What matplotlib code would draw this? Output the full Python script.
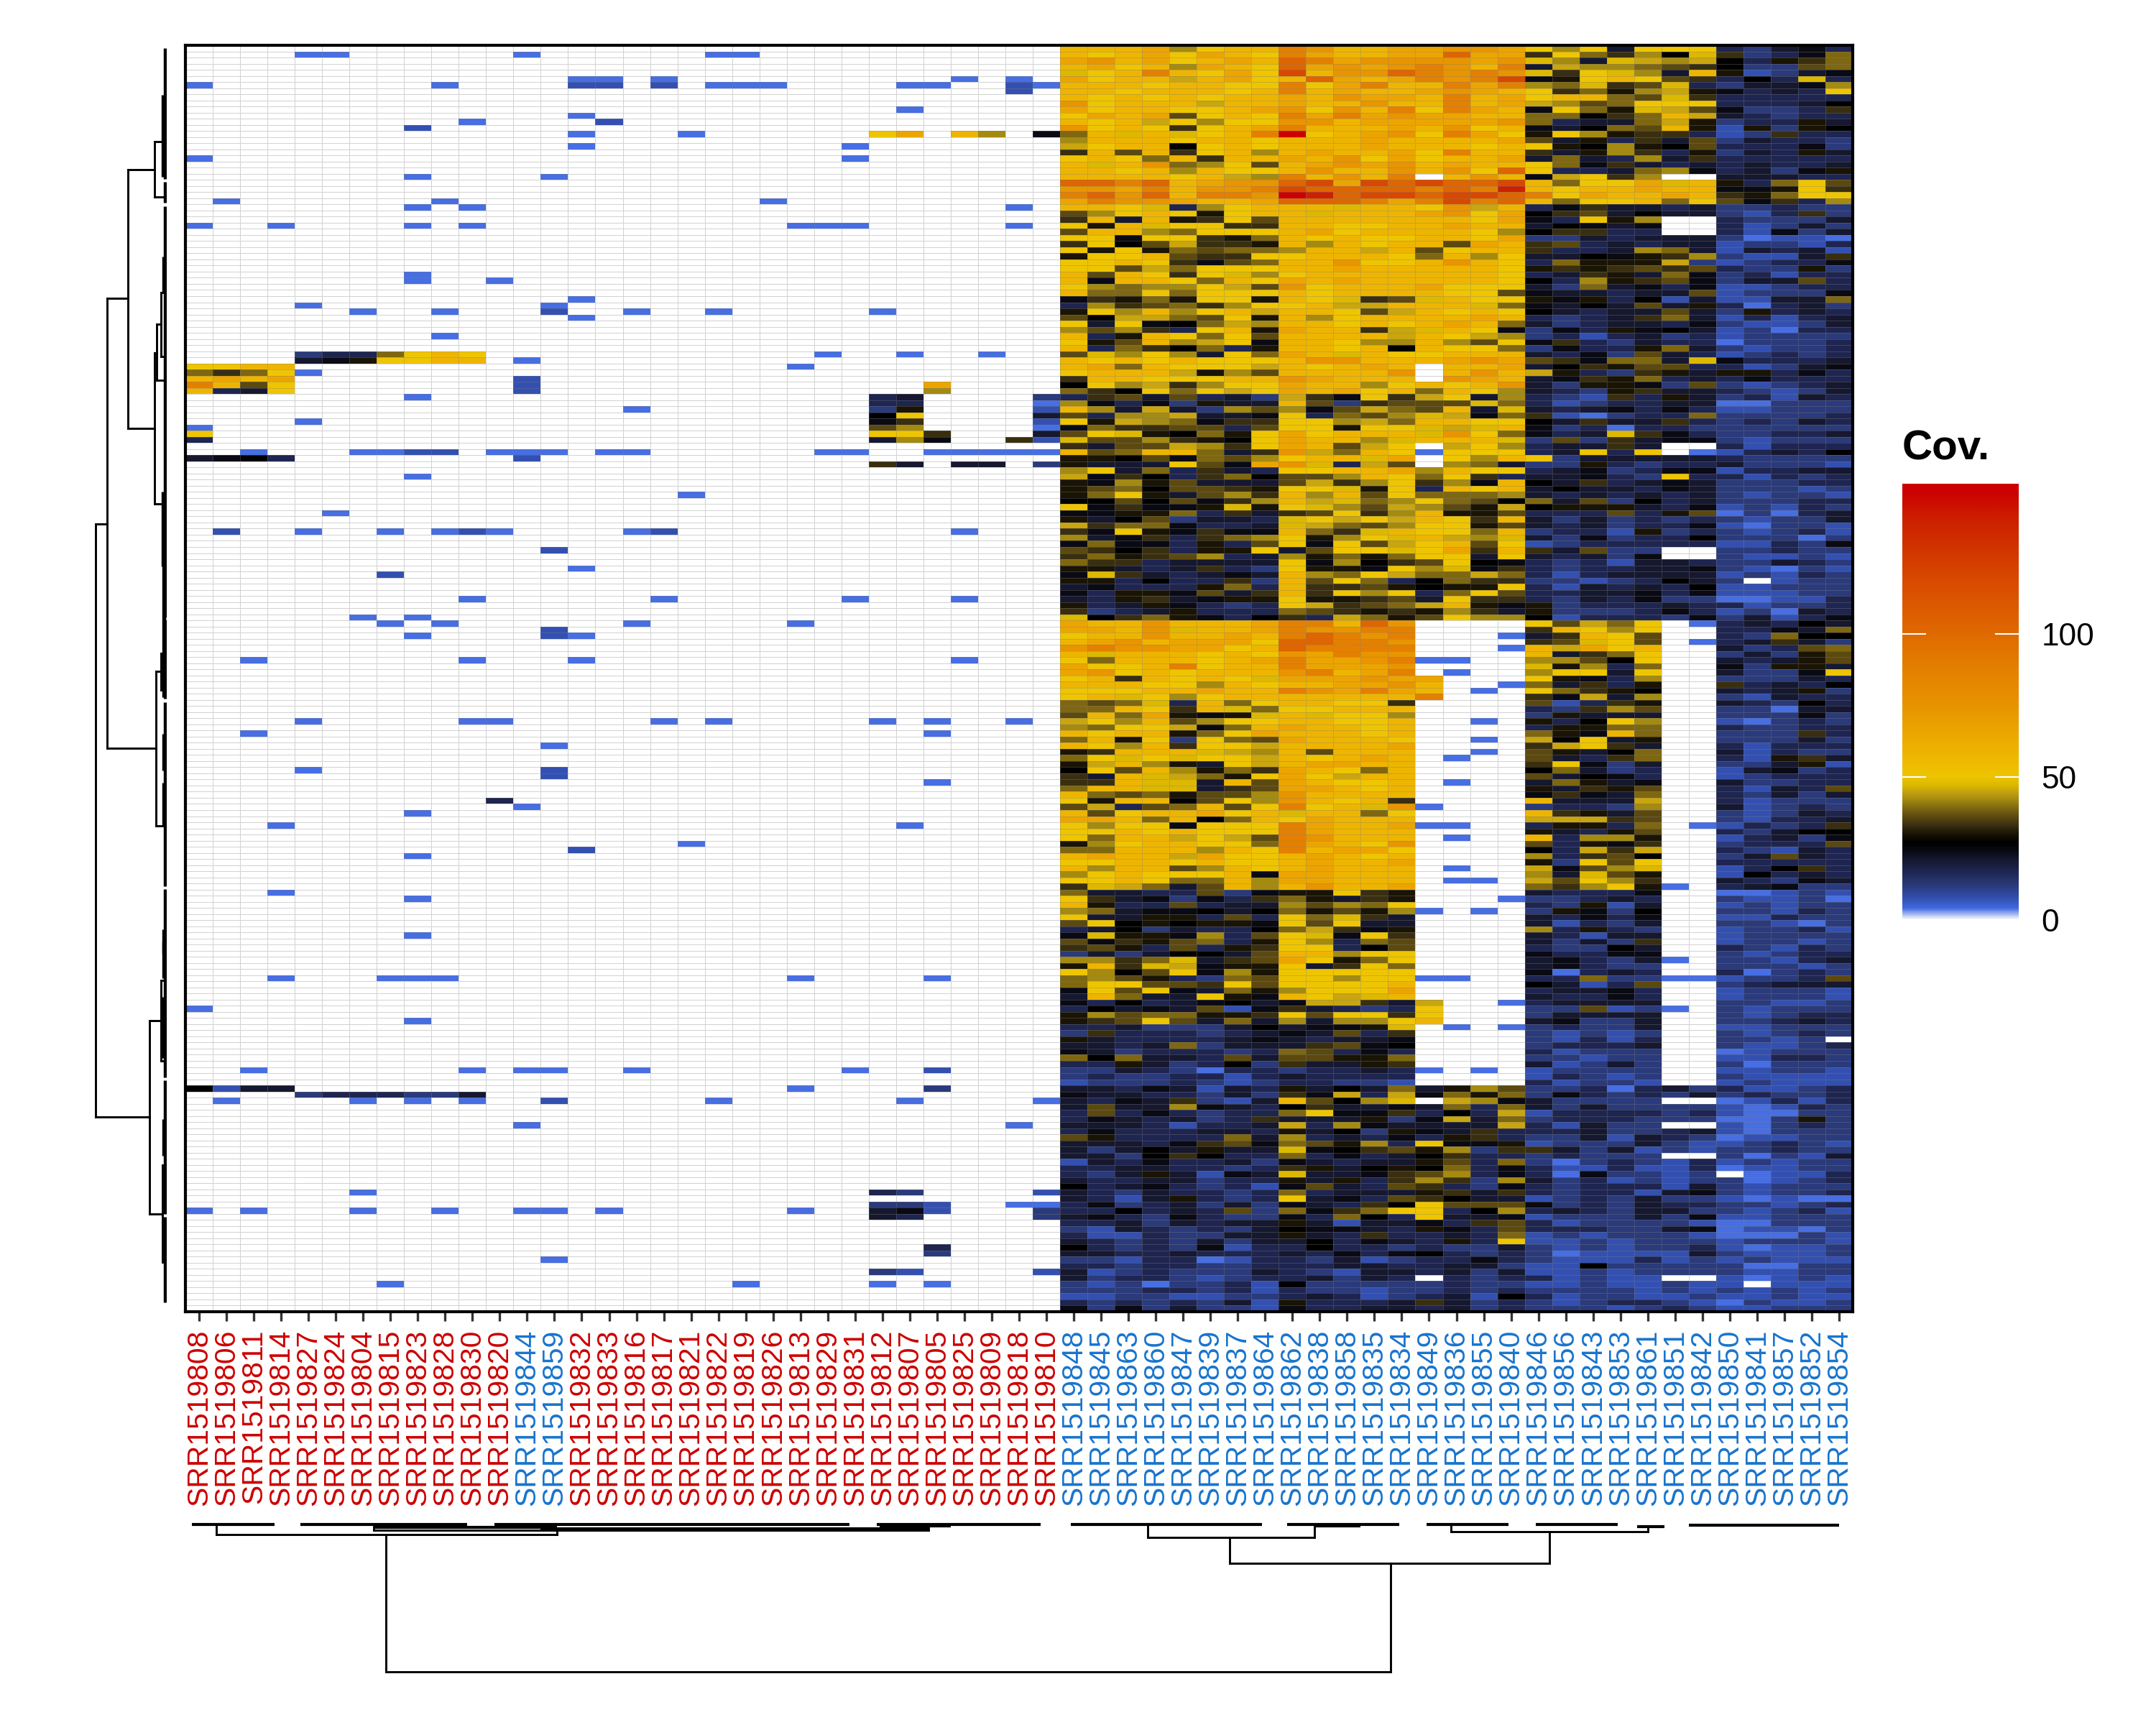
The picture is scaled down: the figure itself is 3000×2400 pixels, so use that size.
#!/usr/bin/env python3
"""Coverage heatmap with row and column dendrograms."""

import numpy as np
import matplotlib

matplotlib.use("Agg")
import matplotlib.pyplot as plt
from matplotlib.collections import LineCollection
from matplotlib.colors import LinearSegmentedColormap

plt.rcParams["font.family"] = ["Liberation Sans", "DejaVu Sans"]

W, H = 3000, 2400

SAMPLES = """808 806 811 814 827 824 804 815 823 828 830 820 844 859 832 833 816 817 821 822 819 826
813 829 831 812 807 805 825 809 818 810 848 845 863 860 847 839 837 864 862 838 858 835 834 849 836
855 840 846 856 843 853 861 851 842 850 841 857 852 854""".split()
BLUE_SAMPLES = {"844", "859"}
N_RED_BLOCK = 32

# one letter per colour level of the scale, '.' means no coverage
LEVEL_CODES = ".BbnmkKZdefghijyopqrstuv"
LEVEL_VALUES = [0, 4, 7.5, 12, 17, 21, 24, 27, 30, 33, 36, 39, 42, 45, 47, 50, 58, 66, 74, 88, 103, 120, 140, 150]
LEVEL_COLORS = ["#FFFFFF", "#4169E1", "#3350B0", "#2A3A7A", "#1E2550", "#15182F", "#0A0A14", "#000000",
                "#1A1405", "#3A2F10", "#5C4A10", "#7F6810", "#A48A10", "#C9A50F", "#DDB800", "#EEC500",
                "#EEB500", "#ECA500", "#E89500", "#E48000", "#DE6500", "#D84800", "#CC2000", "#CC0000"]
VMAX = 152.5
CBAR_TICKS = [0, 50, 100]

# right hand block, one string per row: 17 + 7 + 5 samples
ROWS_A = [
    "ooophyoorqooppqqp yhykyyy mnkKm",
    "oyopypoyrpooppspp eygehZj enmKg",
    "pqopyoposrpqqqqpq jhkjihi Zmdeg",
    "opyohpoyspqpqrqor kihhgfe Znnfg",
    "jyoroypytoqqsrqrq jeyjhko dbnkK",
    "pyooiopyospoprqrt Kdyoyfe mZmjm",
    "oooyooyyryproorpr hgjefjm nkkKh",
    "ooyoooyoropoopqpo yegdhid Kmkmy",
    "oyoyoyoopoqpporop yoogfje mmmmm",
    "qyoooioopooqoorop ihfgyyy mmmkZ",
    "pyooyyopqyqoryrpo Kygdjif Knnme",
    "ypopfyoyrprpqppoo ggZegoi kmnmm",
    "oyoiyhyyqqopppppq gmkkgid nmmdk",
    "qyoyeyoprooopoqyo KkZgfod bdndZ",
    "gojojyorvyopqyrpy dyhdeem bnemm",
    "hoooyooyooopoooop fkdmekf nkmmn",
    "iyooZyoyooopoooyo ydZhdZf mmmKn",
    "eofoeyohopoopyroo ekdhemd nkmdk",
    "yoygoeoopoqypyoop kgkmhke mmmmm",
    "ojoqghyfopqpqopoo ygKekmk mkmmk",
    "ooyohoyyoqooqoqys ymmkghK mknKd",
    "ooooyoihroqor.oqo Kiyeh.. kkkmm",
    "ssrsopqqstptstsst ogyypjo dmgyf",
    "qqproqqrtssssrsru oyoopoo KKdye",
    "rsqsorrqvusttstts rypoopo edgyy",
    "prqqpoopsssrprtrs ogyyogy fKemh",
    "ooyjmhyooojooyqio mKekkmk nnmnn",
    "fhyoydyoojooopqyp ZefkZkk nbmen",
    "eokodeyfoooooooyp Kmydh.. mnnnk",
    "ydojyyeeooyyoopoo kZKkK.. mbnkn",
    "foohgyyyopyooooyh Zeemm.. mbKnk",
    "yyKyyedgoyoyyooyp nnkmkkk nBbbB",
    "eyZfieedohoyoofpo efmkmkk bnnbm",
    "ydydgfgghooiofyoo emmkhgk bkmkb",
    "dyyofeeyyoooygohy kkZKdeh nbbke",
    "yyoyeKfgooqyyoqoy mgdddin bnmmK",
    "yyfigyyyoopoooooy dedefef mnndn",
    "ofoyeyjhyoooooooy mkedkgK nmbmm",
    "oKooygoypopoooooy ZmhdefK nkkfm",
    "yhghhyifqyooopyyy kngkKmK bbnmm",
    "oggygyyyoyooooyyf Kkkmkkf bnnnK",
    "Kedgdyydoyjefjoyy dKdmZbk bbkkg",
    "mhefgehyyoiiooojg KkZkfkd mBmkn",
    "dyhohyoiooyfioyoy Zkmkkfk ndmkm",
    "fZiigfydohyoooopo mnmkegk bmbmk",
    "ykyKZgihooyoyopog knmkkmK nbbnk",
    "hfhemyodpooeijoyK nKmdKZk bnBmm",
    "omdoygyfooooioyih nmbmknm bnnnn",
    "ydfohiyKooyhhohfy Kemnkmm Bnnnm",
    "omgeZgmdooyoZoyyg nKmmdgk nbnnm",
    "fjhyhkygpojoyyooo kmKnfkm bnmnm",
]

ROWS_B = [
    "oyoyoyyyoqqooopqp feKggkj Kmmmk",
    "opgoyyyioyopo.oop kZedffm mbnkK",
    "yoooidhfooooq.oqo idmnedk ddmKm",
    "eooyyyooqpooo.qpo kKedgmk mKmmm",
    "Zyhiehyypoohyoyoq knddKnf nbnmk",
    "geZygyiypopyogoyh kmndekk mnbnk",
    "mefkfmknieKyeiykh mnbemdk nmbkm",
    "hKmKndkkofnefffjg mbnmmkk BBnnn",
    "ohkiknhfhKfigfokj kmkKmKm bbnnn",
    "fmhhikkKymgfhjiKg ebBnmmg nnnnm",
    "ydihgKeeyyhigooyy Zkekkem nmnkm",
    "Kgeeffmfyydyyjijo KnmBmmn nnnnn",
    "fyjdZgdypyooojqyg KmkjeKm nnmmk",
    "jffhedZypoohjoooj nfnekKK nbnnn",
    "ekffiheypofiy.iyh mkkek.. mbmmm",
    "ofgoogkeqigoyByyy mkymy.B bmkmZ",
    "ddZfKgfhyoojp.yho ynkkkkk mnnnn",
    "dkkkyfKpqjmif.hgk nndmnmm knnnb",
    "hykgmekmyyoophoyy mkKnmKK bmmkk",
    "iKeZmegZffhoygyem kkKmnym mbmnm",
    "dKhdfkkkfiehyehKo ZkemkKk nnnmm",
    "dfgZffedyyjdymoyo kZkkmKk nnnbn",
    "dgydkfheohofygggh kmkmkmk nbnnb",
    "ZZfZfKehoijghygfZ gkfnZmk nnnmm",
    "yKeKKdjdyjhfihfdi ZdddkmK bnbmn",
    "KKddgmekefyehoddf mmmfmdf BnBmk",
    "dkZfnkkmjyiyioyeo knknmnm nbnnk",
    "ieggKmmkjigfhyydf kmknmmK bBnnb",
    "eKydKeKKogejoyygo nmmbdnm nbnmb",
    "hkKemeghydhyjoihj knKnmmZ nnnBn",
    "KgKKmdmfyKyfiyofy bnmmmmm bbmnK",
    "feZemddykfyyjypeo ekfnn.. nnmnn",
    "egdefhmkhdgdgyyky kmknK.. nbbnb",
    "geemkkkkyKhZefyZK mnmbkkm nnkmn",
    "ddkmkemnyddKyhjKe mnmmkkK nbBnb",
    "KjekmkKkohgyiggig mbmkkkk bnbmn",
    "ddmZmmenofygmZgee nnbnmZk n.bnn",
    "kKmmmdgmoeefdZddy mbkmkmZ bbnnn",
    "KmddKfkeoeyhymgyf mmkkKmK bbbnn",
    "kmdekKddyddefkyee mnkmKnn BBbbm",
    "dmkdKmnmyiefgiodK dnmmmkm mbnnm",
    "enmkdmmmgfededhek dnnnmKm bnBkm",
    "jZegdKmZemigdfyhh ZbmmmnK nkbmK",
    "pooqoooprrosq.... yfigy.B mkmZk",
    "ppoqjooprqqrr.... eoyhy.. mmKkg",
    "yooqooporsrqr...B keoyf.. mngZZ",
    "opqopppyssrrq.... efjyf.B mkekn",
    "qrqqppyosrrrr...B oipyo.. knmfg",
    "ojoooyoyqprqq.... okegy.. nkndf",
    "ygoooyoprppqrBB.. hhfZy.. kmkdf",
    "pyyoryoorpppq.... jdhmg.. Knddk",
    "pqyoyoooqropr.B.. hyyky.. knnKy",
]

ROWS_C = [
    "yoeoyoyjpppqpp... ydKmh.. nnnkm",
    "oooyyhoyooppqo..B gkemd.. emkmZ",
    "yyyoopoorqprpo.B. ygedZ.. kmkdn",
    "yojyhyooooooor... eKikh.. nbkmm",
    "gfgjmogyooyye.... fbmed.. kmnZm",
    "ggoyeojgyyooo.... mnehf.. nnBkk",
    "fogpdKdjojyyh.... ndkkk.. nnnKn",
    "iyhofhyyooyyo..B. dmZyh.. bBnmn",
    "hgyyiKgopooyo.... mddgg.. mnnmm",
    "oyoodgypoooyo.... gdKog.. nnnem",
    "godynygfpoooy..B. iZykd.. nnnkn",
    "oyhoeyyioooop.... eiyek.. mbmmm",
    "deooojihofooo..B. fdkZg.. kbmnn",
    "gyjyjyyioyopo.B.. fkmeg.. mbdek",
    "diohdkyioppoo.... eyKnk.. nnkdb",
    "Zyfohdgepoygo.... Zgknm.. bkKnm",
    "ekojigdypyioo.... fkZKm.. bnmmm",
    "eeojjkofpoyyo.B.. kgdkK.. knnmm",
    "goojjkefppoyo.... dkedf.. mbkmf",
    "ogfgdffhqoooo.... KeKkg.. mnknk",
    "ydooZfyhqoyoe.... okkki.. mbnnn",
    "fimfgofyryojqB... nmmnh.. kbnmn",
    "ofyoopyojoogy.... oedkf.. nbnkm",
    "ppogoZgoypooo.... iiief.. nbmmk",
    "yhyyKyyyrpoopBB.. mddmg.B bmnme",
    "yyoyoyyyrpooo.... dkmdf.. mnkZZ",
    "ygooiyifrqooo.B.. omhhd.. bmknK",
    "dhyooyygrpoyq.... fmdKe.. nmmmf",
    "ggooohoyroppy.... Zmiei.. mnbkm",
    "opooipyyopoyo.... hmefZ.. nkfkm",
    "yyooyoyyopoop.... dnyfy.. mmmmm",
    "ohoofhoyopooo.B.. iKfhj.. bmZem",
    "hyoyyyoKppooo.... hkjfd.. bZmkm",
    "yyoyggohppooo.BB. ifyhe.. kmnKk",
    "ejigkfohoqoop.... gehydB. mkKnn",
    "gkkmmfnKddyed.... kmmmK.. BBbnb",
    "yekKnKmegdked...B nnmkm.. nbbnB",
    "odmmfmkkhfhgy.... mndbk.. bnbnn",
    "hgkKKZkZgdfdhB.B. ndKnZ.. nnbmn",
    "ykkddmfmygjek.... kmKmK.. bbmnn",
    "fyZdZddKyfykk.... kbmnk.. nnbBn",
    "mkZnkmmZgieKd.... hmdmn.. bnnmb",
    "KjddKhmfyjKye.... kmbkk.. bnnnn",
    "fKedfgmdyhmgf.... knkne.. bnnbn",
    "efdmfmdeyymZf.... mnnZk.. mnbmn",
    "nknkZZkfoohyy.... KmmKK.. nbnmm",
    "hhegjkefpydgy.... kKmnkB. nnbmk",
    "doejiKddykeyg.... kKmnn.. nnnbn",
    "yhZfyKhdyyyyy.... KBmkm.. mBnmn",
    "ghfdmngfyyhyyBB.. mmgnnBB bnnmf",
    "gyyffeyfyyyyo.... Zkbmf.. nmkkk",
]

ROWS_D = [
    "KyfyKkgdhyyyp.... mkkKm.. bnnnb",
    "kogkkydKoyijo.... kmmKm.. bnnnb",
    "KmZmkKZkKiieki..B mkkkk.. nnbbn",
    "mZkKkfbKekmnmy... nnfbnB. nbnnn",
    "dhfggddeyfyyey... nkkkk.. nbnmm",
    "defyfkgkhkhhyo... kKnnk.. nnmkm",
    "mmknnnkZkKKdj.B.B nmnnk.. bbnnn",
    "nemmmnmkKkfme.... nbnbn.. nbnmn",
    "dkmmmmkKkmkkK.... nbmbm.. nnbn.",
    "kkmkgnkkkefKZ.... nmmmk.. nbbnm",
    "KknmmmnmgfmKm.... mbnnn.. Bbnnn",
    "gZgkkmfkffddg.... nnbnn.. bbmmn",
    "mmdknmZnekkde.... kbnkn.. nBnnn",
    "nnkmnBmmnmmkmB.B. bnnnn.. bbnnb",
    "nmnnmmbmkmmmm.... bmnbn.. nbbbb",
    "bnnnmnbnmmnnb.... mbnnb.. bnbbb",
    "kkmKkbkmdkZkgkdhf nnmBmkn mbbnm",
    "KkkmmnkneKimiKgdg nKmnmnk nmnnm",
    "kmKkenbkofZhj.ihK knnnn.. Bbmbm",
    "kfkkhKkmZekkKkgmg knknnnn bBbmn",
    "mfmKmnmmgyKKemZmi bmmmmnm bBBnn",
    "mKkmknmekkkdnKikg nmmmnnn BBndn",
    "kkkmbmmkimhKkkkki mbknn.. bBnmn",
    "mKmmmkkmdkZndKkem mmknnmk bBnnn",
    "fdmmmmgkhmkmKmdem nnkbkmn Bbbnn",
    "kkkmKefKgfdhmyKKd bnnnknb bnmnb",
    "knkZkdkkjKZefdhne eknkbnb nnmnn",
    "kknZeZmmgmKmkZemm nmnnn.. nBnbk",
    "bkmKmmknKkmkkdfmg nBnmnbm bnbnn",
    "mmkkmmnmedkZdZgmK mbbmbbm Bbbnn",
    "mnkdkbKkjkkKefhmK mBKnnbn .Bbbm",
    "kmmkknmmdkdmehenh knmbnbn nBbnm",
    "ZmkKmnmbKfkmfemnK mnmmmbk nbnnn",
    "kmnkmmnmgmkkkdeke mnmmbkK nbnnm",
    "kmbkdmnmykKmfeZkk bnmnknn bBbBB",
    "mKnmknknKkmeZyfff Knmnkmm nnbnm",
    "mmZmkmfngKegyymZh mkmnkkn nbnmb",
    "kKmnKmnnKmgZmykkK bnnnknK bbnnn",
    "mmknkmkkdkbkkKmef mbnnnnb BBnnn",
    "nbkmnmnkZKKkmdKmf mmmnnkK BbbBn",
    "mbbmnnkkdkmemmkmg bnbnnnb BBBnb",
    "kmnmnknkkZmKkmdmy bbnbnnn bnnnb",
    "ZmnmnKbmmZmmnmnnk nbnbnnm bBbbn",
    "kkmmkmmmkmKmKZmnm nBbbbbk nbbbn",
    "nnbmmBbmmnkbnmmKm nbbbmbn bnbbb",
    "mmnmmnnmmmkkmmkkn bbZnnnn nBBnn",
    "kbnmnnnkmnbkkmknk bbnbnnn nbbnn",
    "knmmnbnmmknkm.mnm mbnbb.. bBbnb",
    "nbnBnnmbZnnnnnmnn bbnbbnb b.bbb",
    "nnnmmnmbmnnbnnmnm nnnnbnb nbnbn",
    "bbnnbbnnmkmbnmkbZ mbnnbbn bbnbb",
    "mnmnmnkbdmmmkeknm nbnmmnb Bnbbn",
    "KnKnknnbKmmkkmknm nnnbnmn bbnnn",
]

# left hand block is sparse: row -> "column+level" entries
LEFT_A = {
    1: "4B 5B 19B 20B 12B", 5: "14B 15B 17B 28B 30B", 6: "0B 9B 14b 15b 17b 19B 20B 21B 26B 27B 30b 31B",
    7: "30b", 10: "26B", 11: "14B", 12: "10B 15b", 13: "8b",
    14: "14B 18B 25y 26p 28o 29h 31K", 16: "14B 24B", 18: "0B 24B", 21: "8B 13B", 25: "1B 9B 21B",
    26: "8B 10B 30B", 29: "0B 3B 8B 10B 22B 23B 24B 30B", 37: "8B", 38: "8B 11B", 41: "14B",
    42: "4B 13B", 43: "6B 9B 13b 16B 19B 25B", 44: "14B", 47: "9B",
    50: "4n 5m 6m 7g 8y 9o 10y 23B 26B 29B", 51: "4k 5K 6d 7y 8y 9o 10o 12B",
    52: "0y 1y 2o 3o 22B", 53: "0g 1e 2g 3y 4B", 54: "0o 1p 2o 3p 12b", 55: "0r 1o 2f 3y 12b 27p",
    56: "0o 1m 2k 3y 12b 27h", 57: "8B 25m 26k 31n", 58: "25m 26m 31B", 59: "16B 25n 26d 31b",
    60: "25Z 26y 31k", 61: "4B 25K 26e 31b", 62: "0B 25f 26h 31B", 63: "0y 25y 26y 27e 31k",
    64: "0m 25k 26h 27K 30e 31b", 66: "2B 6B 7B 8b 9b 11B 12B 13B 15B 16B 23B 24B 27B 28B 29B 30B 31B",
    67: "0k 1K 2Z 3m 12b", 68: "25e 26k 28k 29k 31n", 70: "8B", 73: "18B",
}
LEFT_B = {
    76: "5B", 79: "1b 4B 7B 9B 10b 11B 16B 17b 28B", 82: "13b", 85: "14B", 86: "7b", 90: "10B 17B 24B 28B",
    93: "6B 8B", 94: "7B 9B 16B 22B", 95: "13b", 96: "8B 13b 14B", 100: "2B 10B 14B 28B",
    110: "4B 10B 11B 17B 19B 25B 27B 30B", 112: "2B 27B", 114: "13B", 118: "4B 13b", 119: "13b", 120: "27B",
    123: "11m", 124: "12B", 125: "8B", 127: "3B 26B", 130: "18B", 131: "14b", 132: "8B", 138: "3B", 139: "8B",
    145: "8B", 152: "3B 7B 8B 9B 22B 27B", 157: "0B", 159: "8B", 167: "2B 10B 12B 13B 16B 24B 27b",
    170: "0Z 1b 2k 3k 22B 27n", 171: "4n 5m 6m 7m 8n 9n 10k", 172: "1B 6B 8B 10B 13b 19B 26B 31B",
    176: "12B 30B", 187: "6B 25m 26n 31b", 189: "25n 26n 27b 30B 31B",
    190: "0B 2B 6B 9B 12B 13B 15B 22B 25k 26K 27b 31n", 191: "25k 26m 31n", 196: "27m", 197: "27n",
    198: "13B", 200: "25n 26b 31b", 202: "7B 20B 25B 27B",
}

# row dendrogram: height of each merge, its two row positions, heights of both children
ROW_NODE_H = [99.5, 83, 54, 17.4, 17.4, 14, 8.5, 15, 8.5, 5, 24, 8.5, 6]
ROW_NODE_TOP = [77.7, 40.9, 19.8, 15.3, 49.8, 45.1, 39.9, 101.8, 98.9, 121.6, 158.9, 152.4, 182.5]
ROW_NODE_BOT = [174.7, 114.4, 62.1, 24.3, 74.4, 54.2, 50.4, 127.1, 104.9, 127.1, 190.5, 165.5, 198.4]
ROW_CHILD_TOP = [83, 54, 17.4, 5, 14, 8.5, 3, 8.5, 3, 3, 8.5, 3, 3]
ROW_CHILD_BOT = [24, 15, 17.4, 4, 6, 3, 3, 5, 3, 3, 6, 3, 3]
# clusters of very small merges close to the leaves
ROW_FINE_START = [0, 21.8, 25.8, 93.4, 106.9, 137.4, 168.7, 191, 7.6, 34, 72.5, 84, 144, 146, 175, 112, 120, 155]
ROW_FINE_END = [21.3, 25.2, 93, 106.3, 137, 168.2, 190.5, 205, 21, 40, 84.7, 106, 148, 152, 181, 118, 127, 165]
ROW_FINE_H = [2.5, 2.5, 2.5, 2.5, 2.5, 2.5, 2.5, 2.5, 5, 4, 5, 4, 4, 4, 4, 4, 4, 4]

# column dendrogram, same idea, column units along x
COL_NODE_H = [206, 15, 9, 55, 19, 11]
COL_NODE_L = [6.84, 0.64, 6.4, 37.7, 34.7, 45.8]
COL_NODE_R = [43.6, 13.1, 26.7, 49.4, 40.8, 53.0]
COL_CHILD_L = [15, 3, 3, 19, 3, 3]
COL_CHILD_R = [55, 9, 3, 11, 3, 4]
COL_FINE_START = [-0.26, 3.7, 10.8, 24.8, 31.9, 39.8, 44.9, 48.9, 54.5, 6.4, 12.5, 24.9, 52.6, 40.8]
COL_FINE_END = [2.76, 9.8, 23.8, 30.8, 38.9, 43.9, 47.9, 51.9, 60, 13.1, 26.7, 27.5, 53.6, 42.5]
COL_FINE_H = [1, 1, 1, 1, 1, 1, 1, 1, 1.5, 5, 7, 3, 4, 3]


def pixel_axes(fig, x0, y0, x1, y1):
    return fig.add_axes([x0 / W, 1 - y1 / H, (x1 - x0) / W, (y1 - y0) / H])


def fit(group, size):
    return (group + "." * size)[:size]


def build_matrix():
    rows = ROWS_A + ROWS_B + ROWS_C + ROWS_D
    lookup = dict(zip(LEVEL_CODES, LEVEL_VALUES))
    matrix = np.zeros((len(rows), len(SAMPLES)))
    for r, text in enumerate(rows):
        a, b, c = text.split()
        cells = fit(a, 17) + fit(b, 7) + fit(c, 5)
        matrix[r, N_RED_BLOCK:] = [lookup[ch] for ch in cells]
    for block in (LEFT_A, LEFT_B):
        for r, text in block.items():
            for item in text.split():
                matrix[r, int(item[:-1])] = lookup[item[-1]]
    return matrix


def main():
    values = np.array(LEVEL_VALUES, dtype=float)
    stops = list(values / VMAX) + [1.0]
    cmap = LinearSegmentedColormap.from_list("cov", list(zip(stops, LEVEL_COLORS + LEVEL_COLORS[-1:])), N=1024)

    matrix = build_matrix()
    n_rows, n_cols = matrix.shape

    fig = plt.figure(figsize=(10, 8), dpi=300)

    ax = pixel_axes(fig, 258, 63, 2578, 1825)
    ax.pcolormesh(np.arange(n_cols + 1) - 0.5, np.arange(n_rows + 1) - 0.5, matrix, cmap=cmap, vmin=0, vmax=VMAX,
                  edgecolors=(0.5, 0.5, 0.5, 0.35), linewidth=0.2)
    ax.set_xlim(-0.5, n_cols - 0.5)
    ax.set_ylim(n_rows - 0.5, -0.5)
    ax.set_yticks([])
    ax.set_xticks(range(n_cols))
    ax.set_xticklabels(["SRR1519" + s for s in SAMPLES], rotation=90, fontsize=9.8)
    for label, s in zip(ax.get_xticklabels(), SAMPLES):
        in_red = SAMPLES.index(s) < N_RED_BLOCK and s not in BLUE_SAMPLES
        label.set_color("#CC0000" if in_red else "#1874CD")
    ax.tick_params(axis="x", length=3, width=0.8, color="#333333", pad=3)
    for spine in ax.spines.values():
        spine.set_linewidth(1.0)

    # row dendrogram
    ax_row = pixel_axes(fig, 120, 63, 232, 1825)
    ax_row.set_xlim(112, 0)
    ax_row.set_ylim(n_rows - 0.5, -0.5)
    ax_row.axis("off")
    segs = []
    for h, top, bot, ch_t, ch_b in zip(ROW_NODE_H, ROW_NODE_TOP, ROW_NODE_BOT, ROW_CHILD_TOP, ROW_CHILD_BOT):
        segs += [[(h, top), (h, bot)], [(h, top), (ch_t, top)], [(h, bot), (ch_b, bot)]]
    ax_row.add_collection(LineCollection(segs, colors="black", linewidths=0.7, capstyle="projecting"))
    fine = [[(h, a), (h, b)] for a, b, h in zip(ROW_FINE_START, ROW_FINE_END, ROW_FINE_H)]
    ax_row.add_collection(LineCollection(fine, colors="black", linewidths=1.3))

    # column dendrogram
    ax_col = pixel_axes(fig, 258, 2115, 2578, 2340)
    ax_col.set_xlim(-0.5, n_cols - 0.5)
    ax_col.set_ylim(225, 0)
    ax_col.axis("off")
    base = 5
    segs = []
    for h, left, right, ch_l, ch_r in zip(COL_NODE_H, COL_NODE_L, COL_NODE_R, COL_CHILD_L, COL_CHILD_R):
        segs += [[(left, base + h), (right, base + h)], [(left, base + h), (left, base + ch_l)],
                 [(right, base + h), (right, base + ch_r)]]
    ax_col.add_collection(LineCollection(segs, colors="black", linewidths=0.7, capstyle="projecting"))
    fine = [[(a, base + h), (b, base + h)] for a, b, h in zip(COL_FINE_START, COL_FINE_END, COL_FINE_H)]
    ax_col.add_collection(LineCollection(fine, colors="black", linewidths=1.0))

    # colour bar
    cax = pixel_axes(fig, 2647, 673, 2809, 1280)
    ramp = np.linspace(0, VMAX, 512).reshape(-1, 1)
    cax.imshow(ramp, cmap=cmap, vmin=0, vmax=VMAX, origin="lower", aspect="auto", extent=(0, 1, 0, VMAX))
    cax.set_xticks([])
    cax.yaxis.tick_right()
    cax.set_yticks(CBAR_TICKS)
    cax.set_yticklabels([str(t) for t in CBAR_TICKS], fontsize=10.6)
    cax.tick_params(axis="y", length=0, pad=7.5)
    for spine in cax.spines.values():
        spine.set_visible(False)
    for t in CBAR_TICKS[1:]:
        cax.plot([0, 0.2], [t, t], color="white", lw=0.5)
        cax.plot([0.8, 1], [t, t], color="white", lw=0.5)
    cax.set_xlim(0, 1)
    cax.set_ylim(0, VMAX)
    cax.text(0, 1.05, "Cov.", transform=cax.transAxes, fontsize=14, fontweight="bold", ha="left", va="bottom")
    cax.texts[0].set_y(1.035)

    fig.savefig("out.png", dpi=300, facecolor="white")


if __name__ == "__main__":
    main()
